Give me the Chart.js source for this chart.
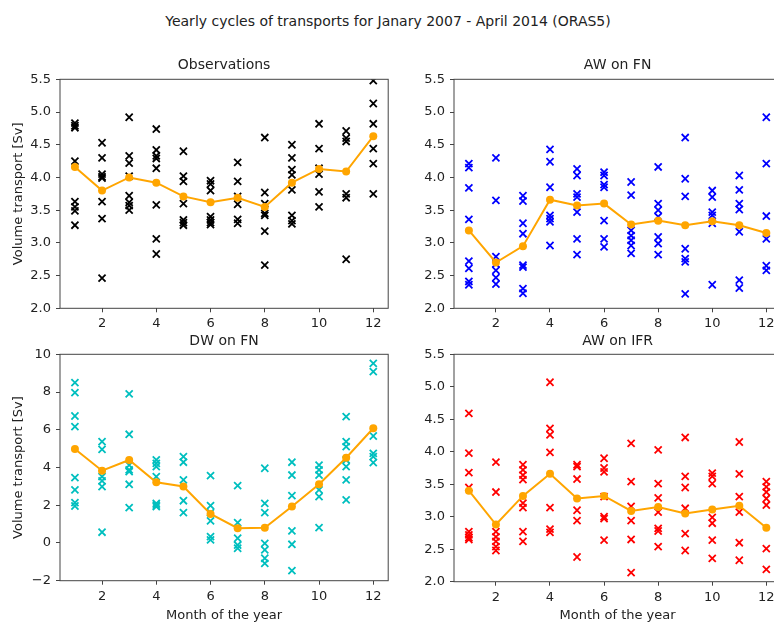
<!DOCTYPE html>
<html>
<head>
<meta charset="utf-8">
<script src="https://cdn.jsdelivr.net/npm/chart.js@4.4.1/dist/chart.umd.min.js"></script>
<style>
  html, body { margin: 0; padding: 0; background: #fff; }
  body { position: relative; width: 774px; height: 623px; overflow: hidden; }
  #suptitle { position: absolute; left: 0; top: 13px; width: 776px; text-align: center;
    font: 14px "DejaVu Sans", sans-serif; color: #222; }
  canvas { position: absolute; }
</style>
</head>
<body>
<div id="suptitle">Yearly cycles of transports for Janary 2007 - April 2014 (ORAS5)</div>
<canvas id="obs" width="395" height="300" style="left:0px;top:50px"></canvas>
<canvas id="awfn" width="374" height="300" style="left:414px;top:50px"></canvas>
<canvas id="dwfn" width="395" height="298" style="left:0px;top:325px"></canvas>
<canvas id="awifr" width="374" height="298" style="left:414px;top:325px"></canvas>
<script>
'use strict';

let months = [1, 2, 3, 4, 5, 6, 7, 8, 9, 10, 11, 12];
let monthTicks = [2, 4, 6, 8, 10, 12];
let svTicks = [2.0, 2.5, 3.0, 3.5, 4.0, 4.5, 5.0, 5.5];
let dwTicks = [-2, 0, 2, 4, 6, 8, 10];

// Observations
let obsValues = [
  [4.83, 4.79, 4.76, 4.25, 3.63, 3.55, 3.49, 3.27],
  [4.53, 4.30, 4.05, 4.01, 3.99, 3.63, 3.37, 2.46],
  [4.92, 4.33, 4.22, 4.02, 3.72, 3.62, 3.57, 3.50],
  [4.74, 4.42, 4.33, 4.29, 4.14, 3.58, 3.06, 2.83],
  [4.40, 4.02, 3.94, 3.60, 3.35, 3.31, 3.27],
  [3.95, 3.90, 3.80, 3.40, 3.35, 3.31, 3.28],
  [4.23, 3.94, 3.71, 3.59, 3.36, 3.30],
  [4.61, 3.77, 3.60, 3.45, 3.42, 3.18, 2.66],
  [4.50, 4.30, 4.12, 4.04, 3.81, 3.42, 3.34, 3.29],
  [4.82, 4.44, 4.14, 4.05, 3.78, 3.55],
  [4.71, 4.60, 4.55, 3.75, 3.69, 2.75],
  [5.48, 5.13, 4.82, 4.44, 4.21, 3.75]
];
let obsMean = [4.16, 3.80, 4.00, 3.92, 3.71, 3.62, 3.69, 3.55, 3.92, 4.13, 4.09, 4.63];

// AW on FN
let awFnValues = [
  [4.21, 4.15, 3.84, 3.36, 2.72, 2.61, 2.41, 2.36],
  [4.30, 3.65, 2.79, 2.68, 2.58, 2.47, 2.37],
  [3.72, 3.64, 3.30, 3.14, 2.66, 2.63, 2.30, 2.23],
  [4.43, 4.24, 3.85, 3.42, 3.37, 3.32, 2.96],
  [4.13, 4.03, 3.75, 3.70, 3.47, 3.06, 2.82],
  [4.08, 4.03, 3.89, 3.85, 3.34, 3.06, 2.94],
  [3.93, 3.73, 3.19, 3.11, 3.04, 2.96, 2.84],
  [4.16, 3.60, 3.50, 3.40, 3.09, 2.99, 2.82],
  [4.61, 3.98, 3.71, 2.91, 2.76, 2.71, 2.22],
  [3.80, 3.70, 3.47, 3.42, 3.30, 2.36],
  [4.03, 3.81, 3.60, 3.51, 3.17, 2.43, 2.31],
  [4.92, 4.21, 3.41, 3.06, 2.65, 2.58]
];
let awFnMean = [3.19, 2.70, 2.95, 3.66, 3.57, 3.60, 3.28, 3.34, 3.27, 3.33, 3.27, 3.15];

// DW on FN
let dwFnValues = [
  [8.50, 7.97, 6.73, 6.17, 3.46, 2.81, 2.14, 1.96],
  [5.37, 4.96, 3.52, 3.29, 2.99, 0.57],
  [7.90, 5.76, 4.13, 3.87, 3.78, 3.11, 1.87],
  [4.40, 4.22, 4.05, 3.52, 2.10, 2.01, 1.93],
  [4.58, 4.28, 3.34, 2.24, 1.61],
  [3.57, 1.98, 1.61, 1.17, 0.34, 0.16],
  [3.04, 1.08, 0.25, -0.11, -0.28],
  [3.96, 2.10, 1.61, -0.02, -0.37, -0.81, -1.08],
  [4.28, 3.60, 2.51, 0.64, -0.07, -1.47],
  [4.13, 3.87, 3.60, 2.81, 2.46, 0.81],
  [6.70, 5.37, 5.11, 4.40, 4.05, 3.34, 2.28],
  [9.52, 9.08, 5.67, 4.75, 4.58, 4.26]
];
let dwFnMean = [4.98, 3.83, 4.40, 3.22, 2.99, 1.54, 0.78, 0.81, 1.93, 3.11, 4.52, 6.08];

// AW on IFR
let awIfrValues = [
  [4.59, 3.98, 3.68, 3.45, 2.77, 2.72, 2.68, 2.65],
  [3.84, 3.38, 2.77, 2.69, 2.62, 2.54, 2.48],
  [3.80, 3.72, 3.64, 3.57, 3.21, 3.14, 2.77, 2.62],
  [5.07, 4.36, 4.26, 3.99, 3.14, 2.81, 2.76],
  [3.80, 3.77, 3.58, 3.10, 2.94, 2.38],
  [3.90, 3.75, 3.69, 3.31, 3.00, 2.97, 2.64],
  [4.13, 3.54, 3.16, 2.94, 2.65, 2.14],
  [4.03, 3.51, 3.29, 3.07, 2.82, 2.78, 2.54],
  [4.22, 3.62, 3.45, 3.13, 2.74, 2.48],
  [3.67, 3.62, 3.51, 2.99, 2.90, 2.64, 2.36],
  [4.15, 3.66, 3.31, 3.07, 2.60, 2.33],
  [3.54, 3.46, 3.38, 3.28, 3.18, 2.51, 2.19]
];
let awIfrMean = [3.40, 2.88, 3.32, 3.66, 3.28, 3.32, 3.09, 3.15, 3.05, 3.11, 3.17, 2.83];

Chart.defaults.font.family = '"DejaVu Sans", sans-serif';
Chart.defaults.color = '#222';

// box round each axes, like matplotlib spines
const framePlugin = {
  id: 'frame',
  afterDatasetsDraw(chart) {
    let a = chart.chartArea;
    let ctx = chart.ctx;
    ctx.save();
    ctx.strokeStyle = '#444';
    ctx.lineWidth = 1;
    ctx.strokeRect(a.left, a.top, a.right - a.left, a.bottom - a.top);
    ctx.restore();
  }
};

function fmtTick(v, svAxis) {
  if (svAxis) return v.toFixed(1);
  return v < 0 ? '\u2212' + Math.abs(v) : String(v);
}

function makePanel(id, title, values, mean, color, yTicks, svAxis, p) {
  let points = [];
  for (let i = 0; i < months.length; i++) {
    for (let j = 0; j < values[i].length; j++) {
      points.push({x: months[i], y: values[i][j]});
    }
  }
  let meanPoints = months.map((m, i) => ({x: m, y: mean[i]}));

  return new Chart(document.getElementById(id), {
    type: 'scatter',
    data: {
      datasets: [
        {
          data: meanPoints,
          showLine: true,
          borderColor: '#ffa500',
          backgroundColor: '#ffa500',
          borderWidth: 2,
          pointRadius: 4,
          pointBorderWidth: 0
        },
        {
          data: points,
          pointStyle: 'crossRot',
          pointRadius: 5,
          borderColor: color,
          backgroundColor: color,
          pointBorderWidth: 1.8
        }
      ]
    },
    options: {
      responsive: false,
      animation: false,
      layout: {padding: {right: 5, left: 0, top: 0, bottom: 0}},
      plugins: {
        legend: {display: false},
        tooltip: {enabled: false},
        title: {
          display: true,
          fullSize: false,
          text: title,
          color: '#222',
          font: {size: 14, weight: 'normal'},
          padding: {top: p.titleTop, bottom: p.titleBottom}
        }
      },
      scales: {
        x: {
          type: 'linear',
          min: 0.45,
          max: 12.55,
          afterBuildTicks: (s) => { s.ticks = monthTicks.map(v => ({value: v})); },
          afterFit: (s) => { s.height = p.xHeight; },
          border: {display: false},
          grid: {drawOnChartArea: false, tickLength: 4, color: '#444'},
          ticks: {font: {size: 13}, padding: 4, maxRotation: 0, autoSkip: false, color: '#222'},
          title: {
            display: p.xTitle,
            text: 'Month of the year',
            font: {size: 13},
            color: '#222',
            padding: {top: 0, bottom: 0}
          }
        },
        y: {
          min: yTicks[0],
          max: yTicks[yTicks.length - 1],
          afterBuildTicks: (s) => { s.ticks = yTicks.map(v => ({value: v})); },
          afterFit: (s) => { s.width = p.yWidth; },
          border: {display: false},
          grid: {drawOnChartArea: false, tickLength: 4, color: '#444'},
          ticks: {
            font: {size: 13},
            padding: 5,
            autoSkip: false,
            color: '#222',
            callback: (v) => fmtTick(v, svAxis)
          },
          title: {
            display: p.yTitle,
            text: 'Volume transport [Sv]',
            font: {size: 13},
            color: '#222',
            padding: {top: 10.5, bottom: 0}
          }
        }
      }
    },
    plugins: [framePlugin]
  });
}

makePanel('obs', 'Observations', obsValues, obsMean, '#000000', svTicks, true,
  {titleTop: 6.6, titleBottom: 5.9, xHeight: 41.7, yWidth: 60, xTitle: false, yTitle: true});
makePanel('awfn', 'AW on FN', awFnValues, awFnMean, '#0000ff', svTicks, true,
  {titleTop: 6.6, titleBottom: 5.9, xHeight: 41.7, yWidth: 40, xTitle: false, yTitle: false});
makePanel('dwfn', 'DW on FN', dwFnValues, dwFnMean, '#00bfbf', dwTicks, false,
  {titleTop: 7.6, titleBottom: 4.9, xHeight: 42.3, yWidth: 60, xTitle: true, yTitle: true});
makePanel('awifr', 'AW on IFR', awIfrValues, awIfrMean, '#ff0000', svTicks, true,
  {titleTop: 7.6, titleBottom: 4.9, xHeight: 41.3, yWidth: 40, xTitle: true, yTitle: false});
</script>
</body>
</html>
